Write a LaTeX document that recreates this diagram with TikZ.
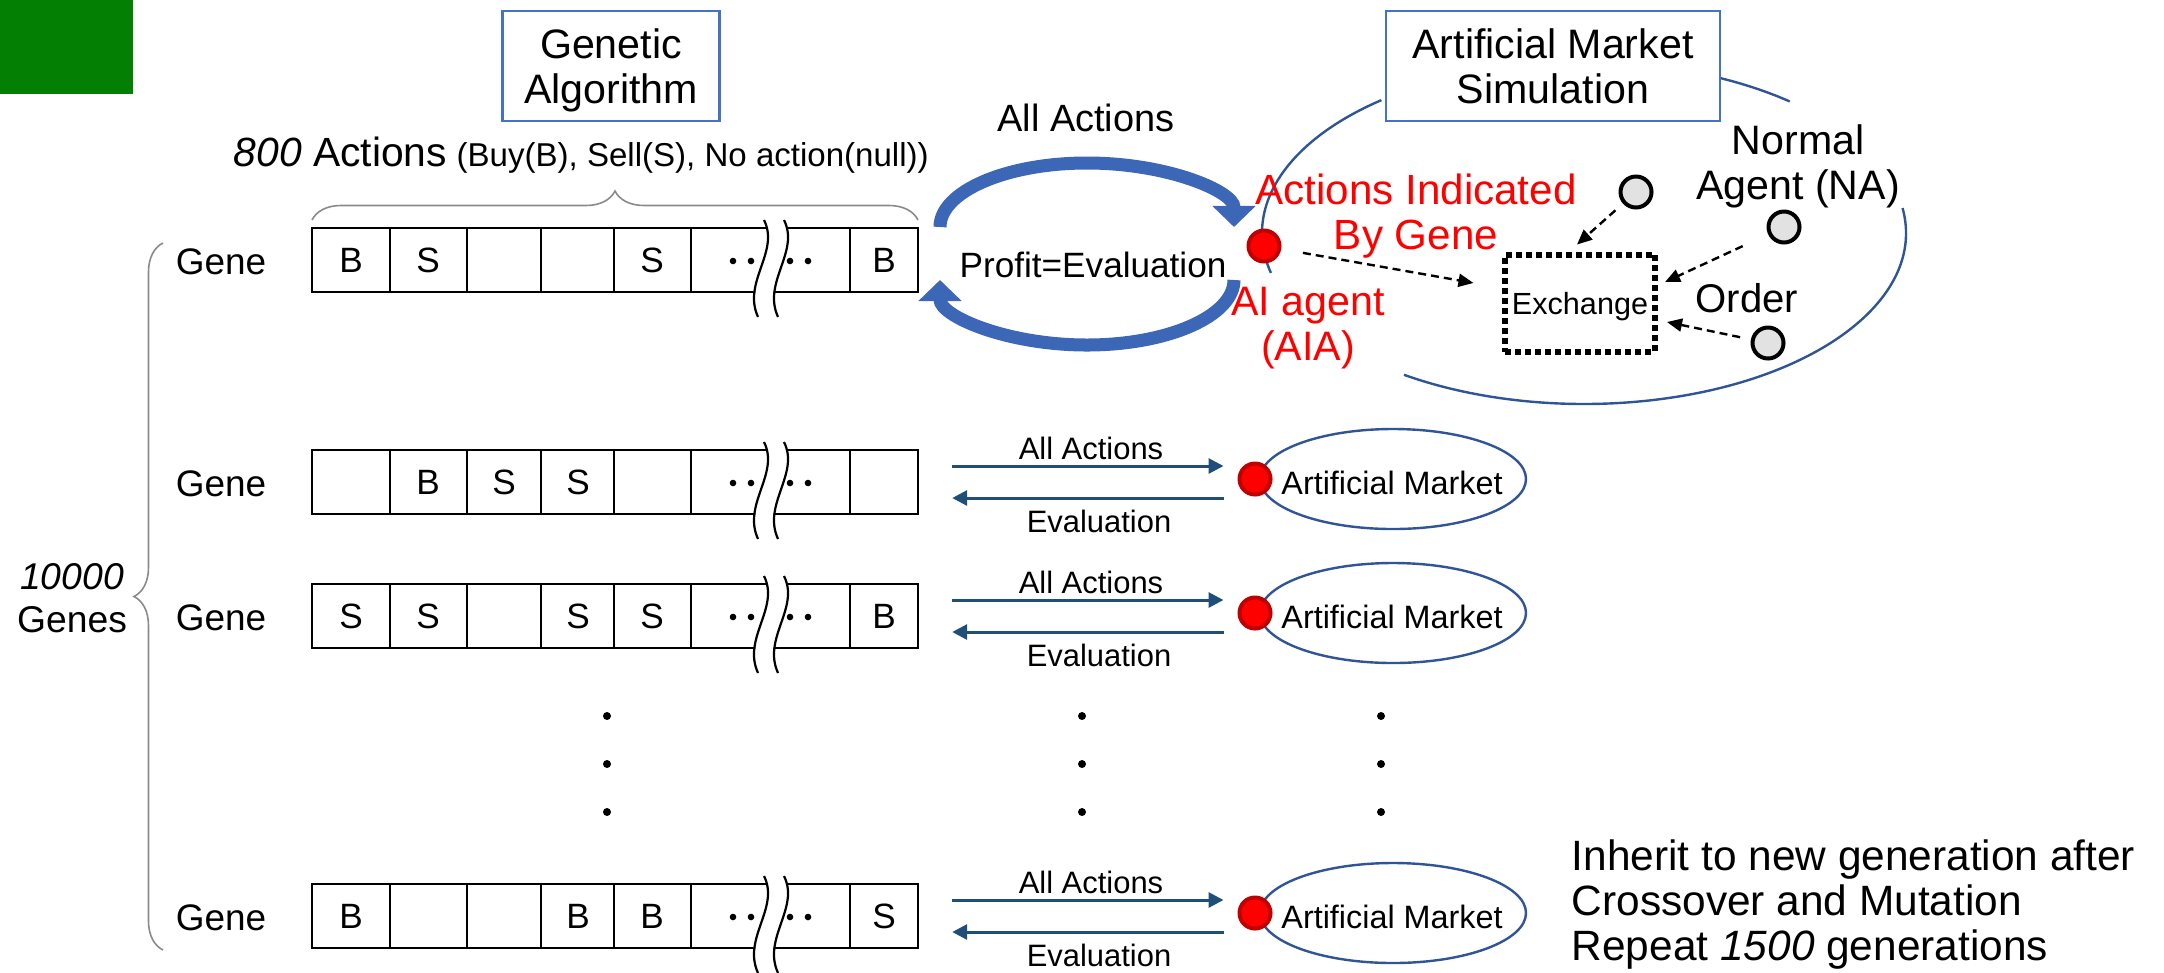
\documentclass[tikz,border=0pt]{standalone}
\usepackage{fontspec}
\setmainfont{Liberation Sans}
\usetikzlibrary{arrows.meta,positioning,calc,decorations.pathreplacing,shapes.geometric}
\definecolor{gagreen}{HTML}{038003}
\definecolor{boxblue}{HTML}{4472C4}
\definecolor{ringblue}{HTML}{2F5597}
\definecolor{loopblue}{HTML}{3C67B6}
\definecolor{flowblue}{HTML}{1F4E79}
\definecolor{aired}{HTML}{FF0000}
\definecolor{airim}{HTML}{C00000}
\definecolor{nagray}{HTML}{E2E2E2}
\definecolor{bracegray}{HTML}{8A8A8A}
\newlength{\pxu}
\setlength{\pxu}{0.01cm}
\newcommand{\fsz}[2]{\fontsize{#1}{#2}\selectfont}

% one gene: label, box, cells, break mark
\newcommand{\generow}[8]{%
  \node[genelabel] (#1lbl) at (221,#2+2) {Gene};
  \node[genebox] (#1) at (615,#2) {};
  \foreach \xc in {390,467,541,614,691,850}
    \draw[cellline] (\xc,#2-32) -- (\xc,#2+32);
  \foreach \xc/\lt [count=\k] in {351/#3,428/#4,504/#5,578/#6,652/#7,884/#8}
    \node[celltext] (#1c\k) at (\xc,#2) {\lt};
  \draw[white,line width=18\pxu] (774,#2-40) .. controls (790,#2-8) and (752,#2+22) .. (768,#2+57);
  \foreach \dx in {-10,10}
    \draw[breakline] (774+\dx,#2-40) .. controls (790+\dx,#2-8) and (752+\dx,#2+22) .. (768+\dx,#2+57);
  \foreach \xd in {733,751,790,808}
    \fill (\xd,#2+1) circle[radius=3.3\pxu];
}

% one small market with its two arrows
\newcommand{\marketrow}[2]{%
  \node[minimkt] (mkt#1) at (1393,#2-3) {};
  \node[mkttext] (mkt#1txt) at (1392,#2+1) {Artificial Market};
  \node[aidot] (dot#1) at (1255,#2-3) {};
  \draw[flowarr] ([shift={(33,-16)}]gene#1.east) -- ([shift={(-14,-13)}]dot#1.west);
  \draw[flowarr] ([shift={(-14,19)}]dot#1.west) -- ([shift={(33,16)}]gene#1.east);
  \node[flowtext] (act#1) at (1091,#2-34) {All Actions};
  \node[flowtext] (eval#1) at (1099,#2+39) {Evaluation};
}

\begin{document}
\begin{tikzpicture}[x=0.01cm,y=-0.01cm,>=Latex,
  every node/.append style={text depth=0pt},
  genebox/.style={draw,line width=2.4\pxu,minimum width=606\pxu,minimum height=64\pxu,inner sep=0pt},
  cellline/.style={line width=1.6\pxu},
  celltext/.style={font=\fsz{10}{12},inner sep=0pt},
  genelabel/.style={font=\fsz{10.5}{12}},
  breakline/.style={line width=2.2\pxu},
  titlebox/.style={draw=boxblue,line width=2.6\pxu,fill=white,minimum height=110\pxu,
    align=center,inner sep=0pt,font=\fsz{11.7}{12.6}},
  mktring/.style={draw=ringblue,line width=2.4\pxu},
  looparr/.style={loopblue,line width=0.13cm,-{Triangle[length=0.21cm,width=0.42cm]}},
  aidot/.style={circle,fill=aired,draw=airim,line width=4\pxu,minimum size=31\pxu,inner sep=0pt},
  nadot/.style={circle,fill=nagray,draw=black,line width=4\pxu,minimum size=31\pxu,inner sep=0pt},
  orderarr/.style={line width=0.024cm,dash pattern=on 0.08cm off 0.05cm,
    -{Triangle[length=0.15cm,width=0.13cm]}},
  exchbox/.style={draw,line width=0.06cm,dash pattern=on 0.06cm off 0.04cm,minimum width=150\pxu,
    minimum height=97\pxu,inner sep=0pt,font=\fsz{8.7}{10}},
  redtext/.style={text=aired,align=center,font=\fsz{12}{12.8}},
  minimkt/.style={ellipse,draw=ringblue,line width=2.4\pxu,minimum width=266\pxu,
    minimum height=100\pxu,inner sep=0pt},
  mkttext/.style={font=\fsz{9.2}{11},inner sep=0pt},
  flowarr/.style={flowblue,line width=0.03cm,-{Triangle[length=0.15cm,width=0.15cm]}},
  flowtext/.style={font=\fsz{8.8}{10}},
  bracing/.style={bracegray,line width=0.016cm,decorate,decoration={brace,amplitude=0.29cm}}]
\useasboundingbox (0,0) rectangle (2164,972);

% ---------- corner mark ----------
\fill[gagreen] (0,0) rectangle (133,94);

% ---------- genetic algorithm: the population ----------
\node[titlebox,minimum width=217\pxu] (gabox) at (611,66) {Genetic\\Algorithm};
\node[anchor=base west,inner sep=0pt] (actcount) at (233,166)
  {{\fsz{11.6}{14}\textit{800} Actions} {\fsz{9.4}{11}(Buy(B), Sell(S), No action(null))}};
\draw[bracing] (312,220) -- (918,220);
\draw[bracing] (163,950) -- (163,243);
\node[align=center,font=\fsz{10.6}{12.2}] (genecount) at (72,598) {\textit{10000}\\Genes};

\generow{gene1}{260}{B}{S}{}{}{S}{B}
\generow{gene2}{482}{}{B}{S}{S}{}{}
\generow{gene3}{616}{S}{S}{}{S}{S}{B}
\generow{gene4}{916}{B}{}{}{B}{B}{S}

% ---------- artificial market simulation ----------
\coordinate (simc) at (1584,233);
\draw[mktring] ([shift={(166.5:322 and 171)}]simc)
  arc[start angle=166.5,end angle=231,x radius=322,y radius=171];
\draw[mktring] ([shift={(-8.4:322 and 171)}]simc)
  arc[start angle=-8.4,end angle=124,x radius=322,y radius=171];
\draw[mktring] ([shift={(-70:322 and 171)}]simc)
  arc[start angle=-70,end angle=-50.3,x radius=322,y radius=171];
\node[titlebox,minimum width=334\pxu] (simbox) at (1553,66) {Artificial Market\\Simulation};

% loop between the first gene and the market
\coordinate (gaout) at (940,227);
\coordinate (simout) at (1234,280);
\draw[looparr] (gaout) arc[start angle=180,end angle=360,x radius=147,y radius=64];
\draw[looparr] (simout) arc[start angle=0,end angle=180,x radius=147,y radius=65];
\node[font=\fsz{10.8}{12}] (allact) at (1086,118) {All Actions};
\node[font=\fsz{10}{12}] (profit) at (1093,265) {Profit=Evaluation};

\node[redtext] (genetxt) at (1416,212) {Actions Indicated\\By Gene};
\node[redtext,font=\fsz{11.7}{12.8}] (aitxt) at (1308,324) {AI agent\\(AIA)};
\node[align=center,font=\fsz{11.7}{12.8}] (natxt) at (1798,162) {Normal\\Agent (NA)};
\node[anchor=west,inner sep=0pt,font=\fsz{11.4}{13}] (ordertxt) at (1695,298) {Order};

\node[exchbox] (exch) at (1580,303) {Exchange};
\node[nadot] (na1) at (1636,192) {};
\node[nadot] (na2) at (1784,227) {};
\node[nadot] (na3) at (1768,343) {};
\draw[orderarr,shorten <=10\pxu] (na1) -- ([shift={(-3,-7)}]exch.north);
\draw[orderarr,shorten <=28\pxu] (na2) -- ([shift={(7,-21)}]exch.east);
\draw[orderarr,shorten <=11\pxu] (na3) -- ([shift={(9,19)}]exch.east);
\node[aidot] (aia) at (1264,246) {};
\draw[orderarr,shorten <=22\pxu,shorten >=29\pxu] (aia) -- ([shift={(0,-15)}]exch.west);

% ---------- the other genes, one market each ----------
\marketrow{2}{482}
\marketrow{3}{616}
\marketrow{4}{916}

\foreach \xv in {607,1082,1381}
  \foreach \yv in {716,764,812}
    \fill (\xv,\yv) circle[radius=4\pxu];

\node[anchor=west,align=left,inner sep=0pt,font=\fsz{12.06}{12.8}] (inherit) at (1571,900)
  {Inherit to new generation after\\Crossover and Mutation\\Repeat \textit{1500} generations};
\end{tikzpicture}
\end{document}
